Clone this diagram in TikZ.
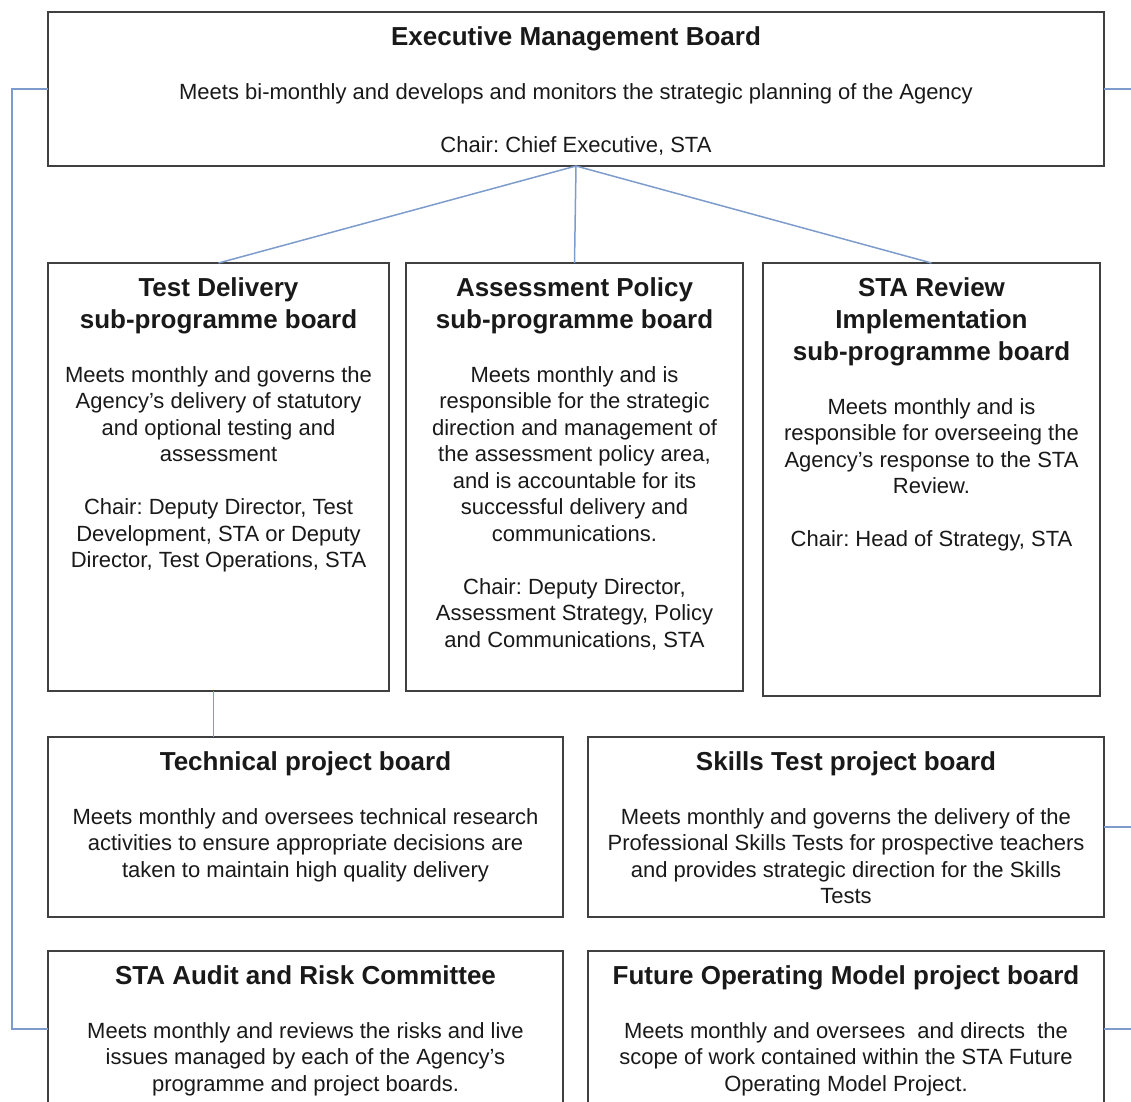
\documentclass[tikz,border=0pt]{standalone}
\usepackage{fontspec}
\setmainfont{Liberation Sans}
\usepackage{tikz}
\usetikzlibrary{positioning}
\frenchspacing
\definecolor{boxclr}{rgb}{0.25, 0.25, 0.25}
\definecolor{linkclr}{rgb}{0.49, 0.61, 0.80}
\definecolor{txtclr}{rgb}{0.1, 0.1, 0.1}
\newcommand{\titlefont}{\fontsize{26}{32}\selectfont\bfseries}
\newcommand{\bodyfont}{\fontsize{22}{26.5}\selectfont}
\newcommand{\board}[4]{\begin{minipage}[t][#2][t]{#1}\centering
  {\titlefont\rule{0pt}{33pt}#3\par}
  \vspace{27.5pt}
  {\bodyfont #4\par}
  \end{minipage}}
\tikzset{ %
  ,board/.style={draw=boxclr, line width=1.6pt, rectangle, inner sep=0, outer sep=0, text=txtclr}
  ,link/.style={draw=linkclr, line width=1.5pt}
}

\begin{document}
\begin{tikzpicture}
  \useasboundingbox (0,0) rectangle (1131pt,-1101pt);
  \clip (0,0) rectangle (1131pt,-1101pt);
  \coordinate (lrail) at (12pt,0);
  \coordinate (rrail) at (1145pt,0);
  \draw
  node[board, anchor=north west] (emb) at (48pt,-12pt)
    {\board{1056pt}{154pt}{Executive Management Board}{Meets bi-monthly and develops and monitors the strategic planning of the Agency\\[26.5pt]Chair: Chief Executive, STA}}
  node[board, below right=97pt and 0pt of emb.south west] (td)
    {\board{341pt}{428pt}{Test Delivery\\sub-programme board}{Meets monthly and governs the\\Agency's delivery of statutory\\and optional testing and\\assessment\\[26.5pt]Chair: Deputy Director, Test\\Development, STA or Deputy\\Director, Test Operations, STA}}
  node[board, below right=0pt and 17pt of td.north east] (ap)
    {\board{337pt}{428pt}{Assessment Policy\\sub-programme board}{Meets monthly and is\\responsible for the strategic\\direction and management of\\the assessment policy area,\\and is accountable for its\\successful delivery and\\communications.\\[26.5pt]Chair: Deputy Director,\\Assessment Strategy, Policy\\and Communications, STA}}
  node[board, below right=0pt and 20pt of ap.north east] (star)
    {\board{337pt}{433pt}{STA Review\\Implementation\\sub-programme board}{Meets monthly and is\\responsible for overseeing the\\Agency's response to the STA\\Review.\\[26.5pt]Chair: Head of Strategy, STA}}
  node[board, below right=46pt and 0pt of td.south west] (tech)
    {\board{515pt}{180pt}{Technical project board}{Meets monthly and oversees technical research\\activities to ensure appropriate decisions are\\taken to maintain high quality delivery}}
  node[board, below right=0pt and 25pt of tech.north east] (skills)
    {\board{516pt}{180pt}{Skills Test project board}{Meets monthly and governs the delivery of the\\Professional Skills Tests for prospective teachers\\and provides strategic direction for the Skills\\Tests}}
  node[board, below right=34pt and 0pt of tech.south west] (audit)
    {\board{515pt}{156pt}{STA Audit and Risk Committee}{Meets monthly and reviews the risks and live\\issues managed by each of the Agency's\\programme and project boards.}}
  node[board, below right=0pt and 25pt of audit.north east] (fom)
    {\board{516pt}{156pt}{Future Operating Model project board}{Meets monthly and oversees~ and directs~ the\\scope of work contained within the STA Future\\Operating Model Project.}};
  % links between boards
  \draw[link] (emb.south) -- (td.north) (emb.south) -- (ap.north) (emb.south) -- (star.north);
  \draw[link] (td.south) ++(-5pt,0) coordinate (tdfoot) -- (tdfoot |- tech.north);
  \draw[link] (emb.west) -- (emb.west -| lrail) -- (audit.west -| lrail) -- (audit.west);
  \draw[link] (emb.east) -- (emb.east -| rrail) (skills.east) -- (skills.east -| rrail) (fom.east) -- (fom.east -| rrail);
\end{tikzpicture}
\end{document}
